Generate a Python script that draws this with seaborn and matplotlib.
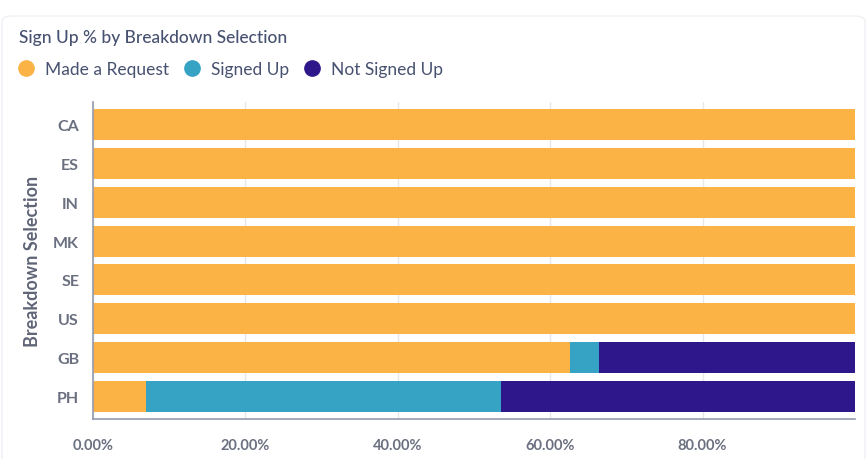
import pandas as pd
import matplotlib
matplotlib.use("Agg")
import matplotlib.pyplot as plt
import seaborn as sns
from matplotlib.lines import Line2D
from matplotlib.patches import FancyBboxPatch
from matplotlib.ticker import FuncFormatter

sns.set_style("white")
plt.rcParams['font.family'] = ['Lato', 'DejaVu Sans']

# data (percent of each breakdown)
countries = ["CA", "ES", "IN", "MK", "SE", "US", "GB", "PH"]
made_request = [100, 100, 100, 100, 100, 100, 62.6, 7.0]
signed_up = [0, 0, 0, 0, 0, 0, 3.8, 46.5]
not_signed_up = [0, 0, 0, 0, 0, 0, 33.6, 46.5]
x_ticks = [0, 20, 40, 60, 80]

series_names = ["Made a Request", "Signed Up", "Not Signed Up"]
colors = ["#FBB346", "#36A3C5", "#2E178A"]

df = pd.DataFrame({
    "country": countries,
    "Made a Request": made_request,
    "Signed Up": signed_up,
    "Not Signed Up": not_signed_up,
})
# cumulative ends for stacking (drawn back to front)
df["end1"] = df["Made a Request"]
df["end2"] = df["end1"] + df["Signed Up"]
df["end3"] = df["end2"] + df["Not Signed Up"]

fig = plt.figure(figsize=(8.67, 4.6), dpi=100)
W, H = 867, 460
ax = fig.add_axes([93 / W, 1 - 420 / H, (855 - 93) / W, (420 - 103) / H])

# faint card outline
card = FancyBboxPatch((2 / W, -0.2), (W - 4) / W, 1 - 17 / H + 0.2,
                      boxstyle="round,pad=0,rounding_size=0.012",
                      transform=fig.transFigure, facecolor="none",
                      edgecolor="#eef0f4", linewidth=1.0, zorder=0)
fig.patches.append(card)

for col, c in zip(["end3", "end2", "end1"], colors[::-1]):
    sns.barplot(data=df, x=col, y="country", order=countries, color=c,
                orient="h", width=0.8, linewidth=0, saturation=1, ax=ax, zorder=2)

ax.set_xlim(0, 100)
ax.set_ylim(len(countries) - 0.42, -0.58)
ax.set_xticks(x_ticks)
ax.xaxis.set_major_formatter(FuncFormatter(lambda v, p: f"{v:.2f}%"))
ax.grid(axis="x", color="#e6e7eb", linewidth=1, zorder=0)
ax.set_axisbelow(True)
ax.set_xlabel("")
ax.set_ylabel("Breakdown Selection", fontsize=13, fontweight="bold",
              color="#5f6577", labelpad=9)

for side in ["top", "right"]:
    ax.spines[side].set_visible(False)
for side in ["left", "bottom"]:
    ax.spines[side].set_color("#9499b0")
    ax.spines[side].set_linewidth(1.2)

ax.tick_params(axis="x", length=0, labelsize=10.5, labelcolor="#6b7080", pad=14)
ax.tick_params(axis="y", length=0, labelsize=11.5, labelcolor="#6b7080", pad=10)
for lab in ax.get_xticklabels() + ax.get_yticklabels():
    lab.set_fontweight("bold")

fig.text(19 / W, 1 - 38 / H, "Sign Up % by Breakdown Selection", fontsize=12.5,
         fontweight="medium", color="#475170", va="center", ha="left")

fs = 12.5
em = fs * 100 / 72
handles = [Line2D([], [], marker="o", linestyle="", markersize=11,
                  markerfacecolor=c, markeredgecolor=c) for c in colors]
fig.legend(handles, series_names, loc="center left",
           bbox_to_anchor=((26 - 0.6 * em) / W, 1 - 70 / H),
           ncol=3, frameon=False, fontsize=fs, labelcolor="#475170",
           borderpad=0, borderaxespad=0,
           handletextpad=0.5, columnspacing=0.72, handlelength=1.2)

fig.savefig("out.png", dpi=100)
